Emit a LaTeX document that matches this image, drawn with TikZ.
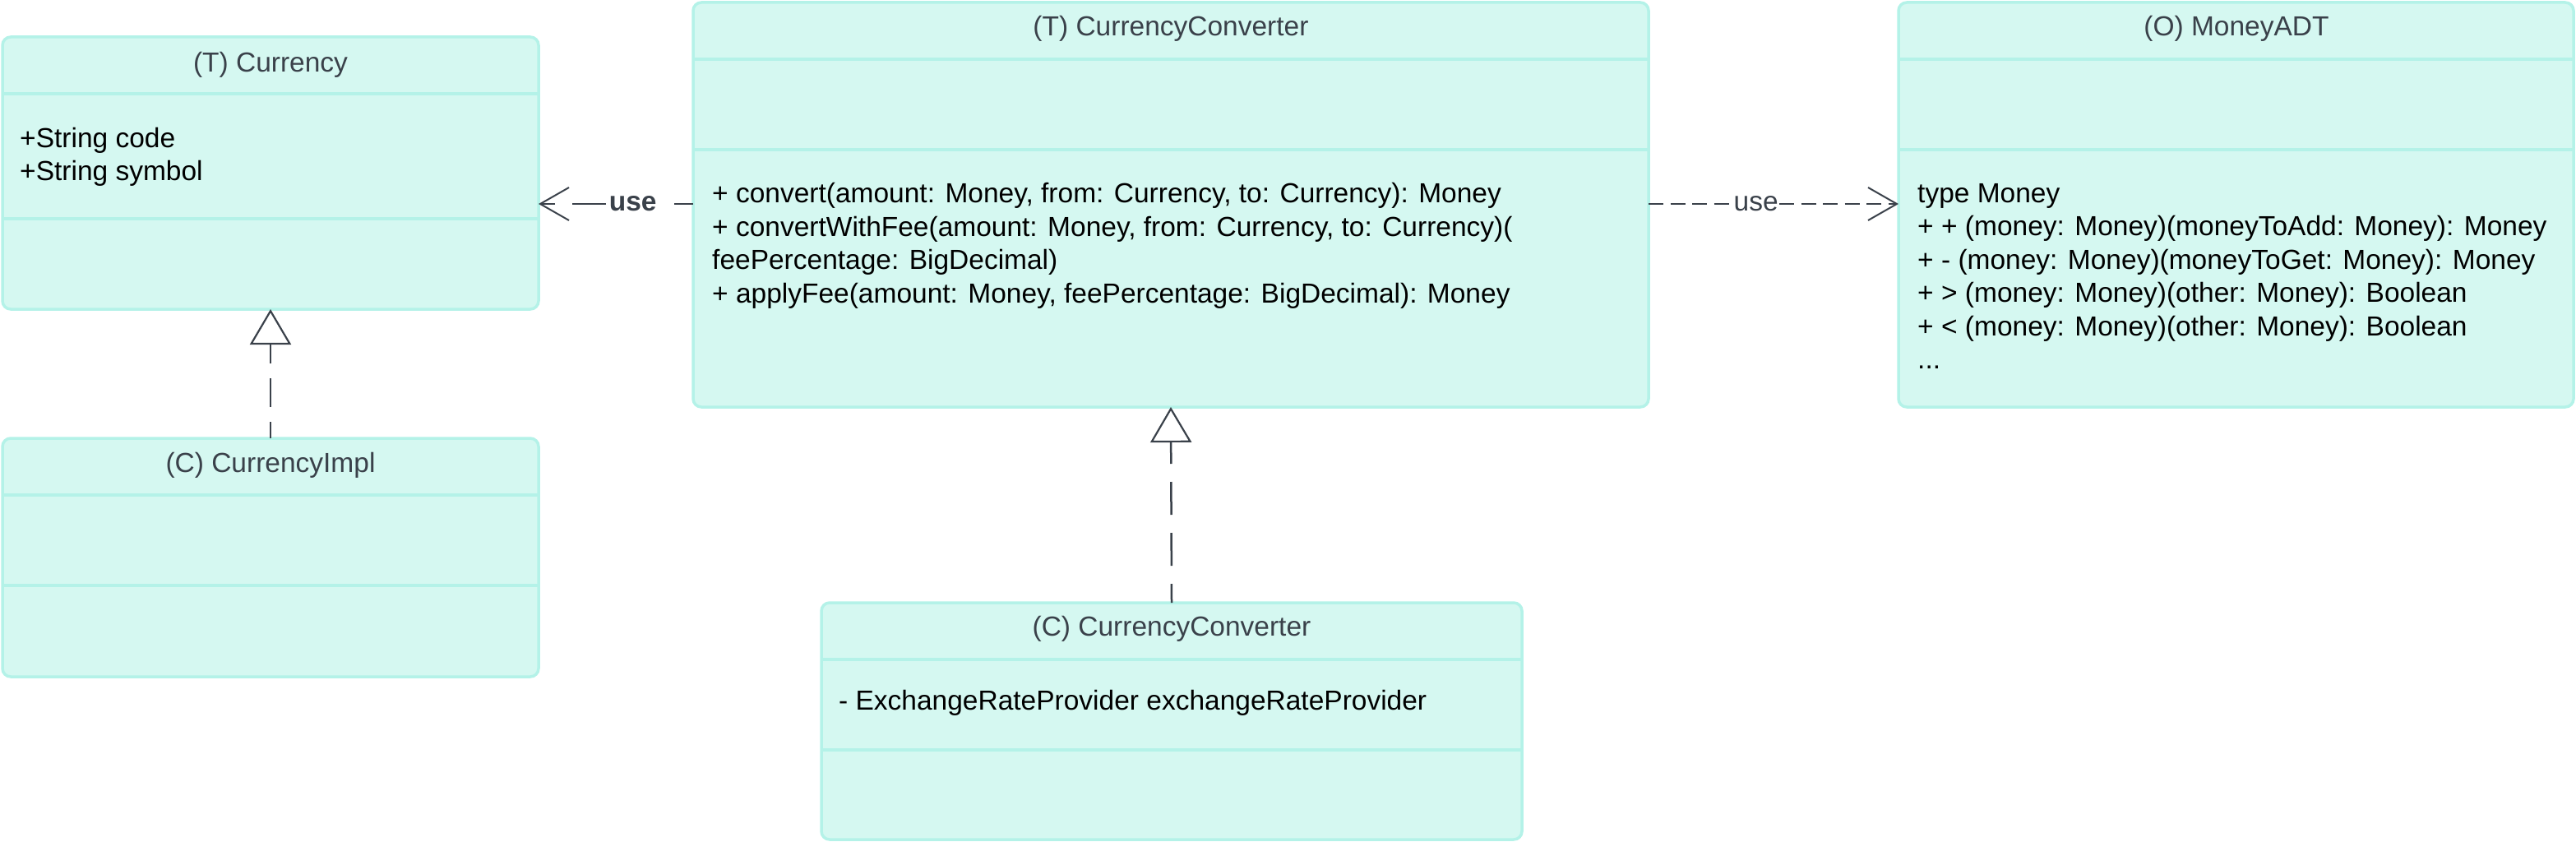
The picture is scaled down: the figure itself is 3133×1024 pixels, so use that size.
\documentclass[tikz,border=0pt]{standalone}
\usepackage{fontspec}
\setmainfont{Liberation Sans}
\usetikzlibrary{arrows.meta}
\definecolor{boxfill}{HTML}{D5F8F1}
\definecolor{boxline}{HTML}{B4F2E8}
\definecolor{txtgray}{HTML}{3A414A}
\tikzset{
  classbox/.style={draw=boxline, fill=boxfill, line width=3.5pt, rounded corners=10pt, outer sep=0pt, inner sep=0pt, anchor=north west},
  divider/.style={draw=boxline, line width=3.5pt},
  header/.style={font=\fontsize{33.5}{40.5}\selectfont, text=txtgray, inner sep=0pt},
  body/.style={font=\fontsize{33.5}{40.5}\selectfont, text=black, align=left, anchor=west, inner sep=0pt},
  realize/.style={draw=txtgray, line width=2.5pt, dash pattern=on 40pt off 22pt, -{Triangle[open, fill=white, length=43pt, width=50pt, line width=2.2pt]}},
  usedep/.style={draw=txtgray, line width=2.5pt, -{Straight Barb[length=35pt, width=40pt, line width=2pt]}},
  uselabel/.style={font=\fontsize{33.5}{40.5}\selectfont, text=txtgray, fill=white, inner sep=1pt},
}
\begin{document}
\begin{tikzpicture}[x=1pt,y=-1pt]
\useasboundingbox (0,0) rectangle (3133,1024);
% boxes
\node[classbox, minimum width=652pt, minimum height=331pt] (cur) at (3,45) {};
\node[classbox, minimum width=652pt, minimum height=290pt] (impl) at (3,533) {};
\node[classbox, minimum width=1162pt, minimum height=492pt] (tconv) at (843,3) {};
\node[classbox, minimum width=821pt, minimum height=492pt] (money) at (2309,3) {};
\node[classbox, minimum width=852pt, minimum height=288pt] (cconv) at (999,733) {};
% dividers
\draw[divider] (cur.west |- 0,114) -- (cur.east |- 0,114);
\draw[divider] (cur.west |- 0,266) -- (cur.east |- 0,266);
\draw[divider] (impl.west |- 0,602) -- (impl.east |- 0,602);
\draw[divider] (impl.west |- 0,712) -- (impl.east |- 0,712);
\draw[divider] (tconv.west |- 0,72) -- (tconv.east |- 0,72);
\draw[divider] (tconv.west |- 0,182) -- (tconv.east |- 0,182);
\draw[divider] (money.west |- 0,72) -- (money.east |- 0,72);
\draw[divider] (money.west |- 0,182) -- (money.east |- 0,182);
\draw[divider] (cconv.west |- 0,802) -- (cconv.east |- 0,802);
\draw[divider] (cconv.west |- 0,912) -- (cconv.east |- 0,912);
% headers
\node[header] (curh) at (329,79) {(T) Currency};
\node[header] (implh) at (329,566) {(C) CurrencyImpl};
\node[header] (tconvh) at (1424,35) {(T) CurrencyConverter};
\node[header] (moneyh) at (2720,35) {(O) MoneyADT};
\node[header] (cconvh) at (1425,765) {(C) CurrencyConverter};
% bodies
\node[body] (curb) at (24,191) {+String code\\+String symbol};
\node[body] (tconvb) at (866,299) {+ convert(amount: Money, from: Currency, to: Currency): Money\\+ convertWithFee(amount: Money, from: Currency, to: Currency)(\\feePercentage: BigDecimal)\\+ applyFee(amount: Money, feePercentage: BigDecimal): Money};
\node[body] (moneyb) at (2332,336) {type Money\\+ + (money: Money)(moneyToAdd: Money): Money\\+ - (money: Money)(moneyToGet: Money): Money\\+ > (money: Money)(other: Money): Boolean\\+ < (money: Money)(other: Money): Boolean\\...};
\node[body] (cconvb) at (1020,855) {- ExchangeRateProvider exchangeRateProvider};
% connectors
\draw[realize, dash pattern=on 35pt off 18pt, dash phase=15pt] (impl.north) -- (cur.south);
\draw[realize, dash phase=17pt] (cconv.north) -- (tconv.south);
\draw[usedep, dash pattern=on 41pt off 21pt, dash phase=18pt] (tconv.west |- 0,248) -- node[uselabel, pos=0.39, font=\fontsize{33.5}{40.5}\selectfont\bfseries] (uselab1) {use} (cur.east |- 0,248);
\draw[usedep, dash pattern=on 18pt off 8.5pt] (tconv.east |- 0,248) -- node[uselabel, pos=0.43] (uselab2) {use} (money.west |- 0,248);
\end{tikzpicture}
\end{document}
